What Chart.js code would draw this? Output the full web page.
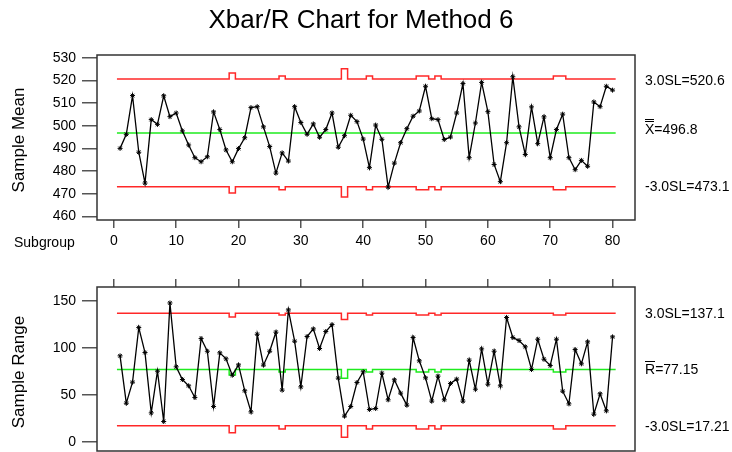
<!DOCTYPE html>
<html>
<head>
<meta charset="utf-8">
<script src="https://cdn.jsdelivr.net/npm/chart.js@4.4.0/dist/chart.umd.min.js"></script>
<style>
  html, body { margin: 0; padding: 0; background: #fff; }
  #wrap { position: relative; width: 732px; height: 452px; overflow: hidden;
          font-family: "Liberation Sans", Arial, sans-serif; color: #000; }
  canvas { position: absolute; left: 0; top: 0; }
  .title { position: absolute; left: 0; width: 722px; top: 4px; text-align: center; font-size: 26px; }
  .lbl { position: absolute; font-size: 14px; white-space: nowrap; transform: translateY(-50%); }
  .ytitle { position: absolute; font-size: 17px; white-space: nowrap; transform: translate(-50%, -50%) rotate(-90deg); }
  .ov2 { display: inline-block; border-top: 3px double #000; line-height: 12px; padding-top: 1px; }
  .ov1 { display: inline-block; border-top: 1px solid #000; line-height: 13px; padding-top: 1px; }
</style>
</head>
<body>
<div id="wrap">
  <canvas id="cMean" width="732" height="452"></canvas>
  <canvas id="cRange" width="732" height="452"></canvas>
  <div class="title">Xbar/R Chart for Method 6</div>
  <div class="ytitle" style="left:19px; top:140px;">Sample Mean</div>
  <div class="ytitle" style="left:19px; top:372px;">Sample Range</div>
  <div class="lbl" style="left:14px; top:242px;">Subgroup</div>
  <div class="lbl" style="left:645px; top:80px;">3.0SL=520.6</div>
  <div class="lbl" style="left:645px; top:128px;"><span class="ov2">X</span>=496.8</div>
  <div class="lbl" style="left:645px; top:186px;">-3.0SL=473.1</div>
  <div class="lbl" style="left:645px; top:313px;">3.0SL=137.1</div>
  <div class="lbl" style="left:645px; top:369px;"><span class="ov1">R</span>=77.15</div>
  <div class="lbl" style="left:645px; top:426px;">-3.0SL=17.21</div>
</div>
<script>
// subgroup means and ranges
const xbarValues = [490.0, 496.2, 513.3, 488.3, 474.7, 502.7, 500.6, 513.2, 504.0, 505.6,
  497.7, 491.5, 485.9, 484.1, 486.3, 506.1, 498.3, 489.3, 484.1, 489.9,
  494.7, 508.0, 508.4, 499.5, 490.8, 479.1, 488.0, 484.4, 508.4, 501.4,
  496.2, 500.8, 494.9, 498.3, 505.6, 490.5, 495.6, 504.6, 501.8, 494.1,
  481.5, 500.3, 494.0, 472.9, 483.5, 492.5, 498.7, 504.2, 506.5, 517.4,
  503.1, 502.7, 493.9, 495.0, 505.6, 518.6, 485.9, 501.2, 519.1, 506.2,
  482.9, 475.3, 492.5, 521.6, 499.5, 487.3, 508.3, 492.1, 503.9, 485.9,
  498.3, 505.1, 485.9, 480.6, 484.7, 482.1, 510.5, 508.4, 517.4, 515.7];

const rangeValues = [91.7, 41.3, 63.7, 121.8, 95.2, 31.0, 75.4, 21.8, 148.0, 80.0,
  66.5, 59.8, 47.4, 110.1, 96.6, 37.8, 94.9, 88.5, 71.1, 82.1,
  54.5, 32.1, 114.7, 81.8, 96.6, 116.9, 55.2, 140.6, 107.3, 58.7,
  112.3, 120.4, 99.5, 117.6, 125.0, 68.0, 27.5, 37.8, 63.3, 74.7,
  34.6, 35.6, 73.2, 44.9, 66.2, 52.0, 39.2, 111.2, 86.4, 68.3,
  43.5, 70.1, 44.9, 62.3, 66.9, 43.5, 87.1, 56.2, 99.1, 61.5,
  96.6, 59.8, 132.5, 111.2, 108.0, 101.3, 77.2, 109.4, 88.1, 81.4,
  109.4, 54.1, 40.6, 98.4, 83.2, 106.6, 29.6, 51.3, 33.2, 111.9];

// subgroup sizes (the limits step out where n < 10)
const subgroupSizes = [10, 10, 10, 10, 10, 10, 10, 10, 10, 10,
  10, 10, 10, 10, 10, 10, 10, 10, 8, 10,
  10, 10, 10, 10, 10, 10, 9, 10, 10, 10,
  10, 10, 10, 10, 10, 10, 7, 10, 10, 10,
  9, 10, 10, 10, 10, 10, 10, 10, 9, 9,
  10, 9, 10, 10, 10, 10, 10, 10, 10, 10,
  10, 10, 10, 10, 10, 10, 10, 10, 10, 10,
  9, 9, 10, 10, 10, 10, 10, 10, 10, 10];

// control limits by subgroup size
const xbarUCL = { 10: 520.6, 9: 521.9, 8: 523.3, 7: 525.1 };
const xbarCL  = { 10: 496.8, 9: 496.8, 8: 496.8, 7: 496.8 };
const xbarLCL = { 10: 473.1, 9: 471.7, 8: 470.3, 7: 468.5 };
const rUCL = { 10: 137.1, 9: 135.3, 8: 133.1, 7: 130.4 };
const rCL  = { 10: 77.15, 9: 74.5, 8: 71.4, 7: 67.8 };
const rLCL = { 10: 17.21, 9: 13.7, 8: 9.7, 7: 5.1 };

const xTicks = [0, 10, 20, 30, 40, 50, 60, 70, 80];
const meanTicks = [460, 470, 480, 490, 500, 510, 520, 530];
const rangeTicks = [0, 50, 100, 150];

const FONT = { family: '"Liberation Sans", Arial, sans-serif', size: 14 };
const RED = 'rgb(255,40,40)';
const GREEN = 'rgb(30,235,30)';

function points(vals) {
  return vals.map((v, i) => ({ x: i + 1, y: v }));
}

// each subgroup holds its limit from i-0.5 to i+0.5
function stepPoints(table) {
  const pts = [];
  subgroupSizes.forEach((n, i) => {
    pts.push({ x: i + 0.5, y: table[n] }, { x: i + 1.5, y: table[n] });
  });
  return pts;
}

const framePlugin = {
  id: 'frame',
  afterDraw(chart) {
    const { ctx, chartArea: a } = chart;
    ctx.save();
    ctx.strokeStyle = '#333';
    ctx.lineWidth = 1.5;
    ctx.strokeRect(a.left, a.top, a.right - a.left, a.bottom - a.top);
    ctx.restore();
  }
};

function limitSet(table, color) {
  return { data: stepPoints(table), borderColor: color, borderWidth: 1.5, pointRadius: 0, tension: 0 };
}

function makeChart(canvas, cfg) {
  const xaxis = {
    type: 'linear', min: -2.7, max: 83.6, position: cfg.xPos,
    afterBuildTicks: s => { s.ticks = xTicks.map(v => ({ value: v })); },
    afterFit: s => { s.height = cfg.xHeight; },
    border: { display: false },
    grid: { drawOnChartArea: false, drawTicks: true, tickLength: 8, color: '#555', lineWidth: 1.5 },
    ticks: { display: cfg.xLabels, font: FONT, color: '#000', padding: 5, maxRotation: 0 }
  };
  const yaxis = {
    type: 'linear', min: cfg.yMin, max: cfg.yMax,
    afterBuildTicks: s => { s.ticks = cfg.yTicks.map(v => ({ value: v })); },
    // fixed width; no extra room reserved for end labels
    afterFit: s => { s.width = 97; s.paddingTop = 0; s.paddingBottom = 0; },
    border: { display: false },
    grid: { drawOnChartArea: false, drawTicks: true, tickLength: 15, color: '#555', lineWidth: 1.5 },
    ticks: { font: FONT, color: '#000', padding: 6 }
  };
  return new Chart(canvas.getContext('2d'), {
    type: 'line',
    data: {
      datasets: [
        { data: points(cfg.values), borderColor: '#000', borderWidth: 1.3, tension: 0,
          pointStyle: 'star', pointRadius: 2.5, pointHoverRadius: 2.5,
          pointBorderColor: '#000', pointBackgroundColor: '#000', pointBorderWidth: 1 },
        limitSet(cfg.ucl, RED),
        limitSet(cfg.cl, GREEN),
        limitSet(cfg.lcl, RED)
      ]
    },
    options: {
      responsive: false,
      animation: false,
      layout: { padding: cfg.padding, autoPadding: false },
      scales: { x: xaxis, y: yaxis },
      plugins: { legend: { display: false }, tooltip: { enabled: false } }
    },
    plugins: [framePlugin]
  });
}

makeChart(document.getElementById('cMean'), {
  values: xbarValues, ucl: xbarUCL, cl: xbarCL, lcl: xbarLCL,
  yMin: 458.4, yMax: 531.2, yTicks: meanTicks,
  xPos: 'bottom', xLabels: true, xHeight: 232,
  padding: { top: 55, right: 97, left: 0, bottom: 0 }
});

makeChart(document.getElementById('cRange'), {
  values: rangeValues, ucl: rUCL, cl: rCL, lcl: rLCL,
  yMin: -9.6, yMax: 165, yTicks: rangeTicks,
  xPos: 'top', xLabels: false, xHeight: 287,
  padding: { top: 0, right: 97, left: 0, bottom: 1 }
});
</script>
</body>
</html>
